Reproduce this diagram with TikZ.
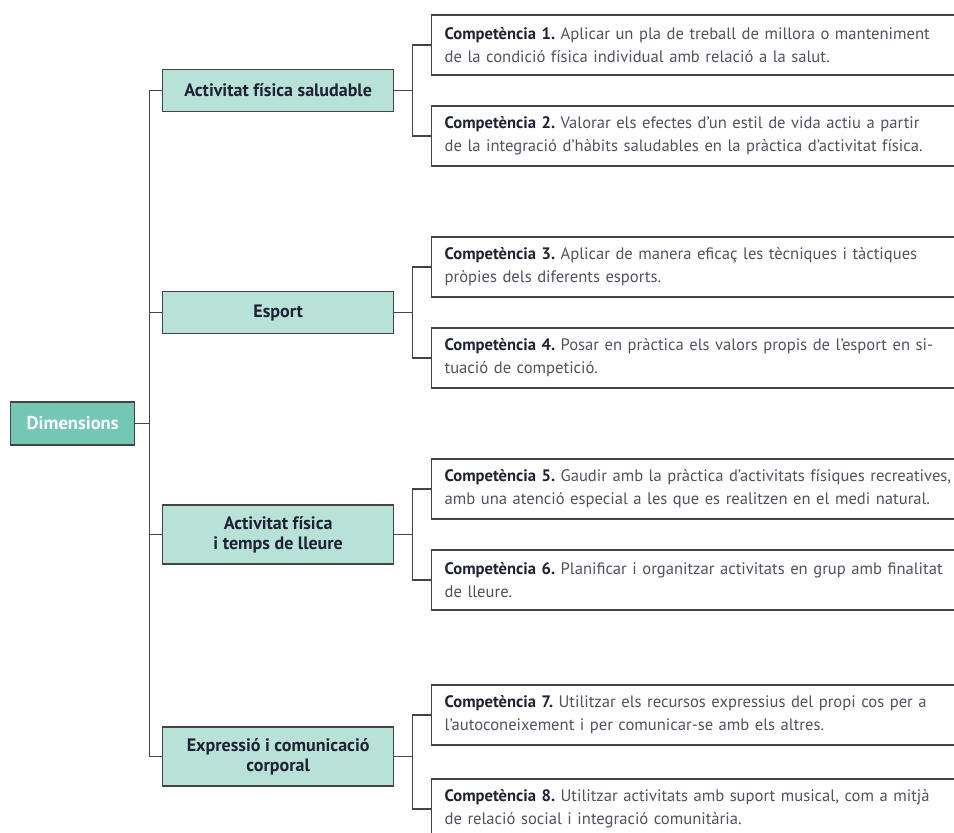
\documentclass[tikz,border=0pt]{standalone}
\usepackage{fontspec}
\setmainfont{PT Sans}
\usetikzlibrary{trees}

\definecolor{dimteal}{HTML}{74C6B5}
\definecolor{areateal}{HTML}{B8E1D8}
\definecolor{linegray}{HTML}{444444}
\definecolor{comptitle}{HTML}{1E2233}
\definecolor{compbody}{HTML}{55505F}

\newcommand{\compt}[1]{\textbf{\textcolor{comptitle}{Competència #1.}}}

\begin{document}
\frenchspacing
\begin{tikzpicture}[x=1pt,y=1pt,
grow'=right,
growth parent anchor=west,
edge from parent/.style={draw=linegray,line width=1.2pt},
level 1/.style={level distance=152pt,sibling distance=222pt,
	edge from parent path={(\tikzparentnode.east) -- ++(14pt,0) |- (\tikzchildnode.west)}},
level 2/.style={level distance=269pt,sibling distance=91pt,
	edge from parent path={(\tikzparentnode.east) -- ++(18pt,0) |- (\tikzchildnode.west)}},
dimbox/.style={
	rectangle,anchor=west,minimum width=124pt,minimum height=43pt,
	fill=dimteal,draw=linegray,line width=1.3pt,text=white,
	font=\bfseries\fontsize{18.5}{20}\selectfont},
areabox/.style={
	rectangle,anchor=west,minimum width=231pt,minimum height=42pt,
	fill=areateal,draw=linegray,line width=1.3pt,text=comptitle,align=center,
	font=\bfseries\fontsize{18}{20}\selectfont},
compbox/.style={
	rectangle,anchor=west,minimum height=60pt,text width=560pt,inner xsep=13pt,
	fill=white,draw=linegray,line width=1.3pt,text=compbody,align=left,
	font=\fontsize{16.6}{23}\selectfont}
]
\useasboundingbox (0,0) rectangle (954,-833);
\clip (0,0) rectangle (954,-833);
\node[dimbox] (dim) at (10,-423.5) {Dimensions}
child{node[areabox] (afs) {Activitat física saludable}
child{node[compbox] (c1) {\compt{1} Aplicar un pla de treball de millora o manteniment\\de la condició física individual amb relació a la salut.}}
child{node[compbox] (c2) {\compt{2} Valorar els efectes d'un estil de vida actiu a partir\\de la integració d'hàbits saludables en la pràctica d'activitat física.}}}
child{node[areabox] (esp) {Esport}
child{node[compbox] (c3) {\compt{3} Aplicar de manera eficaç les tècniques i tàctiques\\pròpies dels diferents esports.}}
child{node[compbox] (c4) {\compt{4} Posar en pràctica els valors propis de l'esport en si-\\tuació de competició.}}}
child{node[areabox,minimum height=59pt] (aft) {Activitat física\\i temps de lleure}
child{node[compbox] (c5) {\compt{5} Gaudir amb la pràctica d'activitats físiques recreatives,\\amb una atenció especial a les que es realitzen en el medi natural.}}
child{node[compbox] (c6) {\compt{6} Planificar i organitzar activitats en grup amb finalitat\\de lleure.}}}
child{node[areabox,minimum height=59pt] (ecc) {Expressió i comunicació\\corporal}
child{node[compbox,yshift=-4pt] (c7) {\compt{7} Utilitzar els recursos expressius del propi cos per a\\l'autoconeixement i per comunicar-se amb els altres.}}
child{node[compbox,yshift=-7pt] (c8) {\compt{8} Utilitzar activitats amb suport musical, com a mitjà\\de relació social i integració comunitària.}}}
;
\end{tikzpicture}
\end{document}
